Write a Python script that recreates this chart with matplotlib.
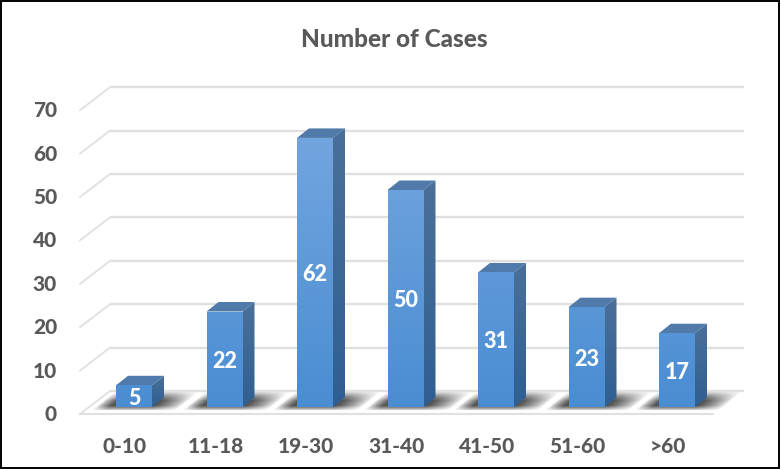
import numpy as np
import matplotlib
matplotlib.use("Agg")
import matplotlib.pyplot as plt
from matplotlib.patches import Polygon, Rectangle
from matplotlib.colors import LinearSegmentedColormap

title = "Number of Cases"
categories = ["0-10", "11-18", "19-30", "31-40", "41-50", "51-60", ">60"]
cases = [5, 22, 62, 50, 31, 23, 17]
y_ticks = [0, 10, 20, 30, 40, 50, 60, 70]

W, H = 781, 469
plt.rcParams['font.family'] = ['Lato', 'DejaVu Sans']
fig = plt.figure(figsize=(W / 100, H / 100), dpi=100, facecolor='white')
ax = fig.add_axes([0, 0, 1, 1])

# scales: one category = 90.5 px, one case = 4.34 px
PX_X = 1 / 90.5
PX_Y = 1 / 4.34
XLIM = (-134 * PX_X, (W - 134) * PX_X)
YLIM = (-(H - 407) * PX_Y, 407 * PX_Y)
ax.axis('off')

bar_w = 36 * PX_X
dx, dy = 12 * PX_X, 9.5 * PX_Y
front_y0 = -7 * PX_Y
back_y0 = 16 * PX_Y
front_x0 = -54 * PX_X
back_x0 = -24 * PX_X
right_x = 610 * PX_X
floor_right = 579 * PX_X
grid_col = '#E0E0E0'
text_col = '#595959'
heavy = 900

for t in y_ticks:
    yb = back_y0 + t
    yf = front_y0 + t
    ax.plot([back_x0, right_x], [yb, yb], color=grid_col, lw=1.7, zorder=1, solid_capstyle='butt')
    ax.plot([front_x0, back_x0], [yf, yb], color=grid_col, lw=1.3, zorder=1)
    ax.text(-77 * PX_X, yf + 1 * PX_Y, str(t), ha='right', va='center_baseline', fontsize=15,
            fontweight=heavy, color=text_col, zorder=6)
ax.plot([front_x0, floor_right], [front_y0, front_y0], color=grid_col, lw=1.5, zorder=1)

front_cmap = LinearSegmentedColormap.from_list('front', ['#72A5DE', '#4A8DD3'])
side_cmap = LinearSegmentedColormap.from_list('side', ['#4A7099', '#2F5F92'])
shadow_cmap = LinearSegmentedColormap.from_list(
    'shadow', [(0.3, 0.3, 0.3, 0.0), (0.3, 0.3, 0.3, 0.95)])


def gradient(cmap, x0, x1, top, clip):
    im = ax.imshow(np.linspace(0, 1, 64).reshape(-1, 1), cmap=cmap, aspect='auto',
                   extent=(x0, x1, 0, top), origin='upper', zorder=4, vmin=0, vmax=1)
    clip.set_transform(ax.transData)
    im.set_clip_path(clip)


for i, (cat, v) in enumerate(zip(categories, cases)):
    l, r = i - bar_w / 2, i + bar_w / 2

    # soft shadow on the floor (pixel offsets from the bar's base)
    xs = np.arange(-30, 100)
    ys = np.arange(-6, 22)
    gx, gy = np.meshgrid(xs, ys)
    skew = 1.25
    a = np.clip((gx - skew * gy + 20) / 14, 0, 1) * np.clip((36 + 28 - gx + skew * gy) / 26, 0, 1)
    a = a * np.clip((gy + 4) / 5, 0, 1) * np.clip((15 - gy) / 9, 0, 1)
    a = a ** 0.7
    ax.imshow(a, cmap=shadow_cmap, vmin=0, vmax=1, origin='lower', aspect='auto',
              extent=(l - 30 * PX_X, l + 100 * PX_X, -6 * PX_Y, 22 * PX_Y),
              zorder=2, interpolation='bilinear')

    # side, top and front faces
    gradient(side_cmap, r, r + dx, v + dy,
             Polygon([(r, 0), (r + dx, dy), (r + dx, v + dy), (r, v)], closed=True))
    ax.add_patch(Polygon([(l, v), (r, v), (r + dx, v + dy), (l + dx, v + dy)],
                         closed=True, fc='#4F7AA9', ec='none', zorder=3))
    gradient(front_cmap, l, r, 62, Rectangle((l, 0), bar_w, v))

    ax.text(i, v / 2, str(v), ha='center', va='center_baseline',
            fontsize=15.5, fontweight=heavy, color='white', zorder=5)
    ax.text(i - 9 * PX_X, -38 * PX_Y, cat, ha='center', va='center_baseline', fontsize=15,
            fontweight=heavy, color=text_col, zorder=6)

ax.set_xlim(*XLIM)
ax.set_ylim(*YLIM)

ax.text((394 - 134) * PX_X, (407 - 37) * PX_Y, title, ha='center', va='center_baseline',
        fontsize=17.5, fontweight=heavy, color=text_col)

# outer frame
fig.add_artist(Rectangle((0.8 / W, 1 / H), (W - 2.6) / W, (H - 2) / H, fill=False,
                         ec='black', lw=1.4, transform=fig.transFigure))
fig.savefig('out.png', dpi=100)
